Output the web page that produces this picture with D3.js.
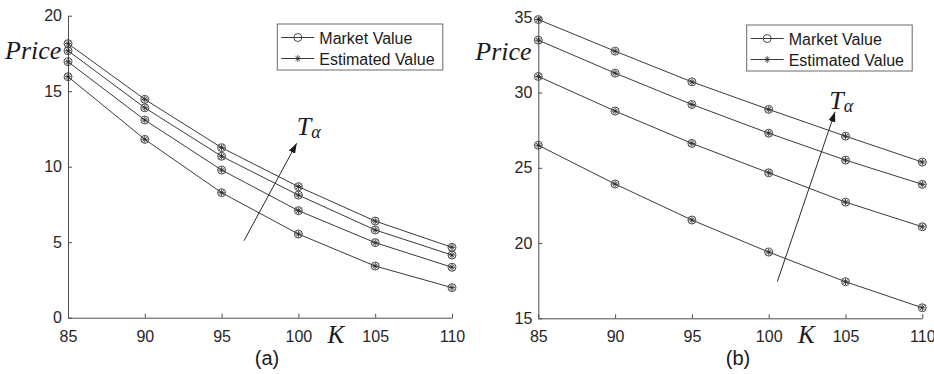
<!DOCTYPE html>
<html>
<head>
<meta charset="utf-8">
<script src="https://cdn.jsdelivr.net/npm/d3@7"></script>
<style>
  body { margin: 0; background: #fff; }
  svg { display: block; }
  .tick text { font-family: "Liberation Sans", Arial, sans-serif; font-size: 16px; fill: #262626; }
  .math { font-family: "Liberation Serif", "DejaVu Serif", serif; font-style: italic; fill: #1a1a1a; }
</style>
</head>
<body>
<div id="chart"></div>
<script>
var strikes = [85, 90, 95, 100, 105, 110];

// panel (a): four maturities, lowest to highest
var priceA1 = [15.96, 11.81, 8.28, 5.54, 3.42, 1.99];
var priceA2 = [16.95, 13.09, 9.78, 7.09, 4.97, 3.34];
var priceA3 = [17.68, 13.90, 10.69, 8.12, 5.81, 4.15];
var priceA4 = [18.15, 14.46, 11.26, 8.68, 6.40, 4.66];

// panel (b)
var priceB1 = [26.50, 23.92, 21.53, 19.40, 17.43, 15.70];
var priceB2 = [31.07, 28.77, 26.62, 24.67, 22.72, 21.08];
var priceB3 = [33.48, 31.29, 29.21, 27.30, 25.51, 23.90];
var priceB4 = [34.85, 32.75, 30.71, 28.88, 27.10, 25.38];

var yTicksA = [0, 5, 10, 15, 20];
var yTicksB = [15, 20, 25, 30, 35];

var legendLabels = ["Market Value", "Estimated Value"];

var width = 934,
    height = 374;

var lineColor = "#3a3a3a",
    axisColor = "#4d4d4d",
    sansFont = "'Liberation Sans', Arial, sans-serif";

var svg = d3.select("#chart").append("svg")
    .attr("width", width)
    .attr("height", height);

var panels = [
  {
    market: [priceA1, priceA2, priceA3, priceA4],
    estimated: [priceA1, priceA2, priceA3, priceA4],
    yDomain: [0, 20], yTicks: yTicksA,
    x0: 68, x1: 452, yTop: 15.7, yBot: 317.7,
    arrow: [[96.46, 5.1], [99.89, 11.55]],
    tLabel: [99.89, 12.1],
    caption: "(a)", captionX: 267,
    legendX: 277.3, legendY: 24
  },
  {
    market: [priceB1, priceB2, priceB3, priceB4],
    estimated: [priceB1, priceB2, priceB3, priceB4],
    yDomain: [15, 35], yTicks: yTicksB,
    x0: 538.3, x1: 922.3, yTop: 17.3, yBot: 318.3,
    arrow: [[100.56, 17.43], [104.32, 28.72]],
    tLabel: [103.95, 28.88],
    caption: "(b)", captionX: 738,
    legendX: 746.7, legendY: 25
  }
];

svg.append("defs").append("marker")
    .attr("id", "head")
    .attr("viewBox", "0 0 10 10")
    .attr("refX", 10).attr("refY", 5)
    .attr("markerWidth", 10).attr("markerHeight", 10)
    .attr("markerUnits", "userSpaceOnUse")
    .attr("orient", "auto")
  .append("path")
    .attr("d", "M0,1.5L10,5L0,8.5Z")
    .attr("fill", "#1a1a1a");

function drawCircle(g, x, y) {
  g.append("circle")
      .attr("cx", x).attr("cy", y).attr("r", 4)
      .attr("fill", "none")
      .attr("stroke", "#4a4a4a")
      .attr("stroke-width", 1);
}

function drawStar(g, x, y) {
  var s = 3.3, d = s * 0.7;
  g.append("path")
      .attr("d", "M" + (x - s) + "," + y + "h" + (2 * s) +
                 "M" + x + "," + (y - s) + "v" + (2 * s) +
                 "M" + (x - d) + "," + (y - d) + "l" + (2 * d) + "," + (2 * d) +
                 "M" + (x - d) + "," + (y + d) + "l" + (2 * d) + "," + (-2 * d))
      .attr("stroke", "#2a2a2a")
      .attr("stroke-width", 0.9)
      .attr("fill", "none");
}

panels.forEach(function(p) {
  var x = d3.scaleLinear().domain([85, 110]).range([p.x0, p.x1]);
  var y = d3.scaleLinear().domain(p.yDomain).range([p.yBot, p.yTop]);

  var g = svg.append("g");

  var xAxis = g.append("g")
      .attr("transform", "translate(0," + p.yBot + ")")
      .call(d3.axisBottom(x).tickValues(strikes).tickSizeInner(-4).tickSizeOuter(0).tickPadding(12.5));
  var yAxis = g.append("g")
      .attr("transform", "translate(" + p.x0 + ",0)")
      .call(d3.axisLeft(y).tickValues(p.yTicks).tickSizeInner(-4).tickSizeOuter(0).tickPadding(6));

  [xAxis, yAxis].forEach(function(a) {
    a.select(".domain").attr("stroke", axisColor);
    a.selectAll(".tick line").attr("stroke", axisColor);
    a.attr("font-family", null).attr("font-size", null);
  });

  var line = d3.line()
      .x(function(d, i) { return x(strikes[i]); })
      .y(function(d) { return y(d); });

  g.selectAll("path.series")
      .data(p.market)
      .enter().append("path")
      .attr("class", "series")
      .attr("d", line)
      .attr("fill", "none")
      .attr("stroke", lineColor)
      .attr("stroke-width", 1);

  p.market.forEach(function(s) {
    s.forEach(function(v, i) { drawCircle(g, x(strikes[i]), y(v)); });
  });
  p.estimated.forEach(function(s) {
    s.forEach(function(v, i) { drawStar(g, x(strikes[i]), y(v)); });
  });

  // axis labels
  g.append("text").attr("class", "math")
      .attr("x", p.x0 - 63).attr("y", p.yTop + 43)
      .attr("font-size", 26)
      .text("Price");
  g.append("text").attr("class", "math")
      .attr("x", x(101.9)).attr("y", p.yBot + 25)
      .attr("font-size", 25)
      .text("K");

  // T alpha arrow
  g.append("line")
      .attr("x1", x(p.arrow[0][0])).attr("y1", y(p.arrow[0][1]))
      .attr("x2", x(p.arrow[1][0])).attr("y2", y(p.arrow[1][1]))
      .attr("stroke", "#2a2a2a")
      .attr("stroke-width", 1)
      .attr("marker-end", "url(#head)");
  var t = g.append("text").attr("class", "math")
      .attr("x", x(p.tLabel[0])).attr("y", y(p.tLabel[1]))
      .attr("font-size", 26);
  t.append("tspan").text("T");
  t.append("tspan").attr("font-size", 18).attr("dy", 3).text("α");

  // caption
  g.append("text")
      .attr("x", p.captionX).attr("y", 365)
      .attr("text-anchor", "middle")
      .attr("font-family", sansFont)
      .attr("font-size", 20)
      .attr("fill", "#1a1a1a")
      .text(p.caption);

  // legend
  var lg = g.append("g").attr("transform", "translate(" + p.legendX + "," + p.legendY + ")");
  lg.append("rect")
      .attr("width", 165.5).attr("height", 46)
      .attr("fill", "#fff")
      .attr("stroke", "#6a6a6a")
      .attr("stroke-width", 1);
  legendLabels.forEach(function(lbl, i) {
    var cy = 13.5 + i * 21;
    lg.append("line")
        .attr("x1", 4).attr("x2", 37).attr("y1", cy).attr("y2", cy)
        .attr("stroke", lineColor).attr("stroke-width", 1);
    if (i === 0) drawCircle(lg, 20.5, cy); else drawStar(lg, 20.5, cy);
    lg.append("text")
        .attr("x", 42).attr("y", cy + 6)
        .attr("font-family", sansFont)
        .attr("font-size", 16)
        .attr("fill", "#1a1a1a")
        .text(lbl);
  });
});
</script>
</body>
</html>
